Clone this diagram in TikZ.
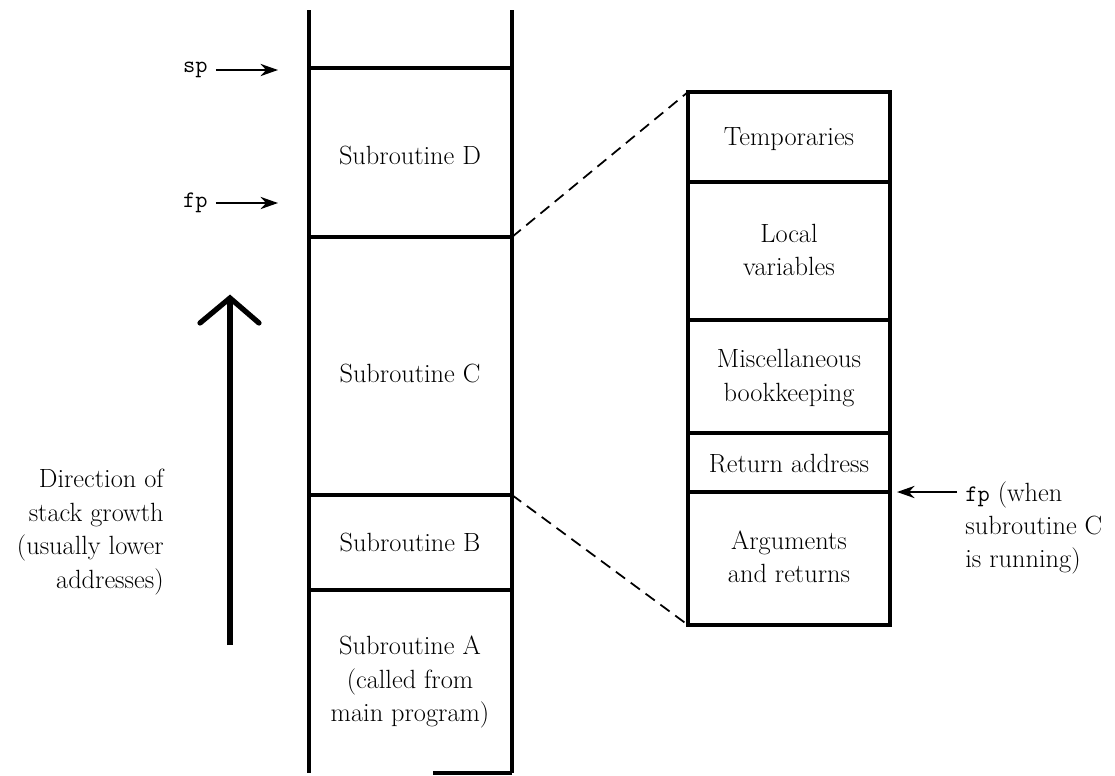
\documentclass[tikz,border=0pt]{standalone}
\usepackage{fontspec}
\usetikzlibrary{arrows.meta}
\begin{document}
\begin{tikzpicture}[x=0.02cm,y=-0.02cm,
  frame/.style={line width=1.9pt},
  lbl/.style={font=\fontsize{15}{19}\selectfont, align=center, inner sep=0pt},
  code/.style={font=\fontsize{13.5}{19}\selectfont\ttfamily, inner sep=0pt},
  ptr/.style={line width=0.9pt, -{Stealth[length=10pt,width=7pt]}},
  zoomline/.style={line width=1pt, dash pattern=on 6.5pt off 4pt},
  growth/.style={line width=3pt}]
\useasboundingbox (0,0) rectangle (1115,775);

% ---- the run-time stack (open at the top) ----
\coordinate (stTopL) at (309,10);  \coordinate (stTopR) at (512,10);
\coordinate (stBotL) at (309,773); \coordinate (stBotR) at (512,773);
\coordinate (spL) at (309,68);   \coordinate (spR) at (512,68);
\coordinate (dcL) at (309,237);  \coordinate (dcR) at (512,237);
\coordinate (cbL) at (309,495);  \coordinate (cbR) at (512,495);
\coordinate (baL) at (309,590);  \coordinate (baR) at (512,590);
\coordinate (botS) at (433,773);

\draw[frame] (stTopL) -- (stBotL);
\draw[frame] (stTopR) -- (stBotR);
\draw[frame] (spL) -- (spR);
\draw[frame] (dcL) -- (dcR);
\draw[frame] (cbL) -- (cbR);
\draw[frame] (baL) -- (baR);
\draw[frame] (botS) -- (stBotR);

\node[lbl] (subD) at (410,155) {Subroutine D};
\node[lbl] (subC) at (410,373) {Subroutine C};
\node[lbl] (subB) at (410,542) {Subroutine B};
\node[lbl] (subA) at (410,682) {Subroutine A\\(called from\\main program)};

% ---- stack and frame pointers ----
\node[code, anchor=east] (sp) at (208,70) {sp};
\node[code, anchor=east] (fp) at (208,203) {fp};
\coordinate (spTip) at (278,68);
\coordinate (fpTip) at (278,202);
\draw[ptr] ([xshift=4.5pt]sp.east) -- (sp.east -| spTip);
\draw[ptr] ([xshift=4.5pt]fp.east) -- (fp.east -| fpTip);

% ---- direction of growth ----
\coordinate (growBase) at (230,645);
\coordinate (growTip) at (230,298);
\draw[growth] (growBase) -- (growTip);
\draw[growth, line join=miter, line cap=round] (growTip) ++(-30,25) -- (growTip) -- ++(29,25);
\node[lbl, align=right, anchor=east] (growTxt) at (164,532)
  {Direction of\\stack growth\\(usually lower\\addresses)};

% ---- expanded frame of subroutine C ----
\coordinate (fTL) at (688,92);  \coordinate (fTR) at (890,92);
\coordinate (fBL) at (688,625); \coordinate (fBR) at (890,625);
\coordinate (f1L) at (688,182); \coordinate (f1R) at (890,182);
\coordinate (f2L) at (688,320); \coordinate (f2R) at (890,320);
\coordinate (f3L) at (688,433); \coordinate (f3R) at (890,433);
\coordinate (f4L) at (688,492); \coordinate (f4R) at (890,492);

\draw[frame] (fTL) rectangle (fBR);
\draw[frame] (f1L) -- (f1R);
\draw[frame] (f2L) -- (f2R);
\draw[frame] (f3L) -- (f3R);
\draw[frame] (f4L) -- (f4R);

\node[lbl] (temps) at (789,139) {Temporaries};
\node[lbl] (locals) at (789,250) {Local\\variables};
\node[lbl] (misc) at (789,378) {Miscellaneous\\bookkeeping};
\node[lbl] (ret) at (789,464) {Return address};
\node[lbl] (args) at (789,557) {Arguments\\and returns};

\draw[zoomline] (dcR) -- (fTL);
\draw[zoomline] (cbR) -- (fBL);

% ---- frame pointer while C runs ----
\coordinate (fpCfrom) at (957,492);
\node[lbl, align=left, anchor=west] (fpC) at (965,528)
  {{\fontsize{13.5}{19}\selectfont\ttfamily fp} (when\\subroutine C\\is running)};
\draw[ptr, shorten >=4pt] (fpCfrom) -- (f4R);
\end{tikzpicture}
\end{document}
